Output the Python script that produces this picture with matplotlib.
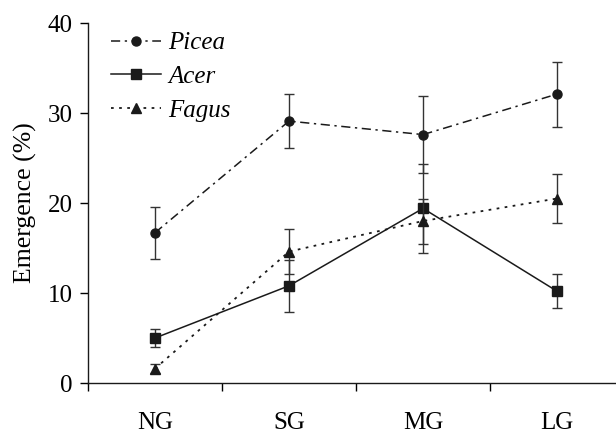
import numpy as np
import matplotlib.pyplot as plt

plt.rcParams['font.family'] = 'serif'
plt.rcParams['font.serif'] = ['Liberation Serif', 'Times New Roman', 'DejaVu Serif']

# gap classes
sites = ['NG', 'SG', 'MG', 'LG']

# mean emergence (%) and standard errors
picea = [16.7, 29.1, 27.6, 32.1]
picea_se = [2.9, 3.0, 4.3, 3.6]
acer = [5.0, 10.8, 19.4, 10.2]
acer_se = [1.0, 2.9, 4.9, 1.9]
fagus = [1.6, 14.6, 18.0, 20.5]
fagus_se = [0.5, 2.5, 2.5, 2.7]

x = np.arange(len(sites))
col = '#1a1a1a'

fig = plt.figure(figsize=(6.16, 4.34), dpi=100)
ax = fig.add_axes([88/616, 51/434, 528/616, 360/434])

styles = [
    (picea, picea_se, 'Picea', (0, (6, 3, 1.5, 3)), 'o', 6.5, 1.1),
    (acer, acer_se, 'Acer', '-', 's', 6.5, 1.1),
    (fagus, fagus_se, 'Fagus', (0, (1.5, 3)), '^', 7, 1.3),
]
for y, se, name, ls, mk, ms, lw in styles:
    ax.errorbar(x, y, yerr=se, fmt='none', capsize=3.5, elinewidth=1.0,
                capthick=1.0, ecolor='#333333')
    ax.plot(x, y, color=col, ls=ls, lw=lw, marker=mk, ms=ms, label=name)

ax.set_xlim(-0.5, 3.44)
ax.set_ylim(0, 40)
ax.set_yticks([0, 10, 20, 30, 40])
ax.set_xticks([-0.5, 0.5, 1.5, 2.5])
ax.set_xticklabels([])
ax.set_xticks(x, minor=True)
ax.set_xticklabels(sites, minor=True)
ax.tick_params(axis='x', which='major', length=6, width=1, direction='out')
ax.tick_params(axis='x', which='minor', length=0, pad=21, labelsize=18)
ax.tick_params(axis='y', length=6, width=1, direction='out', pad=5, labelsize=18)

for s in ['top', 'right']:
    ax.spines[s].set_visible(False)
for s in ['left', 'bottom']:
    ax.spines[s].set_linewidth(1.0)
    ax.spines[s].set_color(col)

ax.set_ylabel('Emergence (%)', fontsize=18.5, labelpad=8)

ax.legend(loc='upper left', bbox_to_anchor=(0.0, 1.038), frameon=False,
          handlelength=2.0, handletextpad=0.3, labelspacing=0.45,
          prop={'style': 'italic', 'size': 18})

fig.savefig('out.png', dpi=100)
